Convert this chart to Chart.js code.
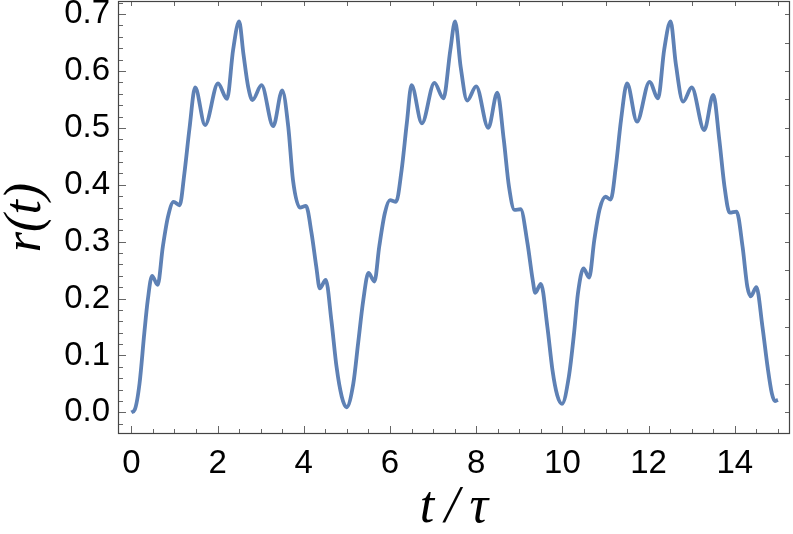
<!DOCTYPE html>
<html lang="en">
<head>
  <meta charset="UTF-8">
  <title>r(t) vs t/tau</title>
  <script src="https://cdn.jsdelivr.net/npm/chart.js"></script>
  <style>
    body {
      margin: 0;
      background: #fff;
    }
    #chart {
      display: block;
    }
  </style>
</head>
<body>
  <canvas id="chart" width="793" height="534"></canvas>

  <script>
    // values, t in units of tau
    const tValues = [
      0.00, 0.08, 0.19, 0.30, 0.38, 0.48, 0.61, 0.73, 0.85, 0.98,
      1.12, 1.23, 1.35, 1.48, 1.71, 2.01, 2.22, 2.36, 2.50, 2.60,
      2.71, 2.81, 3.02, 3.29, 3.50, 3.64, 3.75, 3.91, 4.05, 4.18,
      4.29, 4.37, 4.51, 4.64, 4.76, 4.88, 4.99,
      5.15, 5.26, 5.38, 5.50, 5.64, 5.75, 5.88, 6.00, 6.14, 6.27,
      6.39, 6.50, 6.74, 7.03, 7.24, 7.40, 7.51, 7.64, 7.79, 8.00,
      8.28, 8.49, 8.64, 8.76, 8.89, 9.03, 9.19, 9.31, 9.37, 9.50,
      9.65, 9.77, 9.88, 9.99,
      10.15, 10.27, 10.36, 10.49, 10.62, 10.74, 10.86, 11.00, 11.12, 11.24,
      11.36, 11.50, 11.73, 12.02, 12.22, 12.36, 12.51, 12.63, 12.80, 13.00,
      13.29, 13.50, 13.64, 13.76, 13.88, 14.04, 14.18, 14.29, 14.37, 14.50,
      14.64, 14.76, 14.86, 14.93, 15.00
    ];
    const rValues = [
      0.000, 0.005, 0.051, 0.139, 0.197, 0.240, 0.224, 0.291, 0.344, 0.370,
      0.364, 0.420, 0.500, 0.571, 0.505, 0.578, 0.551, 0.637, 0.687, 0.630,
      0.572, 0.549, 0.575, 0.503, 0.566, 0.502, 0.408, 0.360, 0.363, 0.315,
      0.256, 0.218, 0.233, 0.162, 0.080, 0.028, 0.009,
      0.051, 0.121, 0.197, 0.245, 0.230, 0.291, 0.350, 0.373, 0.370, 0.426,
      0.508, 0.575, 0.508, 0.579, 0.552, 0.637, 0.687, 0.607, 0.548, 0.573,
      0.500, 0.562, 0.479, 0.397, 0.356, 0.357, 0.297, 0.233, 0.210, 0.226,
      0.151, 0.074, 0.030, 0.015,
      0.063, 0.139, 0.209, 0.253, 0.237, 0.303, 0.356, 0.379, 0.374, 0.432,
      0.514, 0.578, 0.511, 0.581, 0.552, 0.637, 0.687, 0.613, 0.546, 0.571,
      0.496, 0.558, 0.479, 0.397, 0.351, 0.353, 0.291, 0.221, 0.204, 0.220,
      0.151, 0.080, 0.033, 0.020, 0.022
    ];

    const xTickValues = [0, 2, 4, 6, 8, 10, 12, 14];
    const yTickValues = [0.0, 0.1, 0.2, 0.3, 0.4, 0.5, 0.6, 0.7];

    const points = tValues.map((t, i) => ({ x: t, y: rValues[i] }));

    // Mathematica style frame: box on all four sides, ticks pointing inward
    const frameTicks = {
      id: "frameTicks",
      afterDraw(chart) {
        const { ctx, chartArea: a, scales } = chart;
        const xs = scales.x;
        const ys = scales.y;
        ctx.save();

        ctx.strokeStyle = "#666";
        ctx.lineWidth = 1;
        ctx.beginPath();
        // bottom: minor every 0.5, major every 2
        for (let v = 0; v <= 15.001; v += 0.5) {
          const px = Math.round(xs.getPixelForValue(v)) + 0.5;
          const len = (Math.abs(v % 2) < 1e-6) ? 8 : 5;
          ctx.moveTo(px, a.bottom);
          ctx.lineTo(px, a.bottom - len);
        }
        // top: every 1
        for (let v = 0; v <= 15.001; v += 1) {
          const px = Math.round(xs.getPixelForValue(v)) + 0.5;
          ctx.moveTo(px, a.top);
          ctx.lineTo(px, a.top + 5);
        }
        // left: minor every 0.02, major every 0.1
        for (let k = -1; k <= 36; k++) {
          const v = k * 0.02;
          const py = Math.round(ys.getPixelForValue(v)) + 0.5;
          if (py < a.top || py > a.bottom) continue;
          const len = (k % 5 === 0) ? 8 : 5;
          ctx.moveTo(a.left, py);
          ctx.lineTo(a.left + len, py);
        }
        // right: every 0.05
        for (let k = 0; k <= 14; k++) {
          const py = Math.round(ys.getPixelForValue(k * 0.05)) + 0.5;
          ctx.moveTo(a.right, py);
          ctx.lineTo(a.right - 5, py);
        }
        ctx.stroke();

        ctx.strokeStyle = "#444";
        ctx.lineWidth = 1.2;
        ctx.strokeRect(a.left + 0.5, a.top + 0.5, a.right - a.left - 1, a.bottom - a.top - 1);
        ctx.restore();
      }
    };

    Chart.defaults.font.family = "'Liberation Sans', Arial, sans-serif";
    Chart.defaults.color = "#000";

    const titleFont = { family: "'Liberation Serif', 'Times New Roman', serif", style: "italic", size: 52, lineHeight: 1 };

    new Chart(document.getElementById("chart").getContext("2d"), {
      type: "line",
      data: {
        datasets: [{
          data: points,
          borderColor: "#5E81B5",
          borderWidth: 3.8,
          pointRadius: 0,
          fill: false,
          cubicInterpolationMode: "monotone"
        }]
      },
      options: {
        responsive: false,
        animation: false,
        devicePixelRatio: 1,
        layout: { padding: { top: 1, right: 3, left: 0, bottom: 0 } },
        plugins: {
          legend: { display: false },
          tooltip: { enabled: false }
        },
        scales: {
          x: {
            type: "linear",
            min: -0.31,
            max: 15.28,
            afterBuildTicks: (scale) => {
              scale.ticks = xTickValues.map(v => ({ value: v }));
            },
            afterFit: (scale) => {
              scale.height = 100;
              scale.paddingLeft = 0;
              scale.paddingRight = 0;
            },
            grid: { display: false, drawTicks: false },
            border: { display: false },
            ticks: {
              padding: 10,
              maxRotation: 0,
              autoSkip: false,
              font: { size: 33 },
              callback: (v) => String(v)
            },
            title: {
              display: true,
              text: "t\u2009/\u2009\u03C4",
              font: titleFont,
              padding: { top: 0, bottom: 0 }
            }
          },
          y: {
            type: "linear",
            min: -0.038,
            max: 0.723,
            afterBuildTicks: (scale) => {
              scale.ticks = yTickValues.map(v => ({ value: v }));
            },
            afterFit: (scale) => {
              scale.width = 118;
              scale.paddingTop = 0;
              scale.paddingBottom = 0;
            },
            grid: { display: false, drawTicks: false },
            border: { display: false },
            ticks: {
              padding: 8,
              autoSkip: false,
              font: { size: 33 },
              callback: (v) => v.toFixed(1)
            },
            title: {
              display: true,
              text: "r(t)",
              font: titleFont,
              padding: { top: 0, bottom: 0 }
            }
          }
        }
      },
      plugins: [frameTicks]
    });
  </script>
</body>
</html>
